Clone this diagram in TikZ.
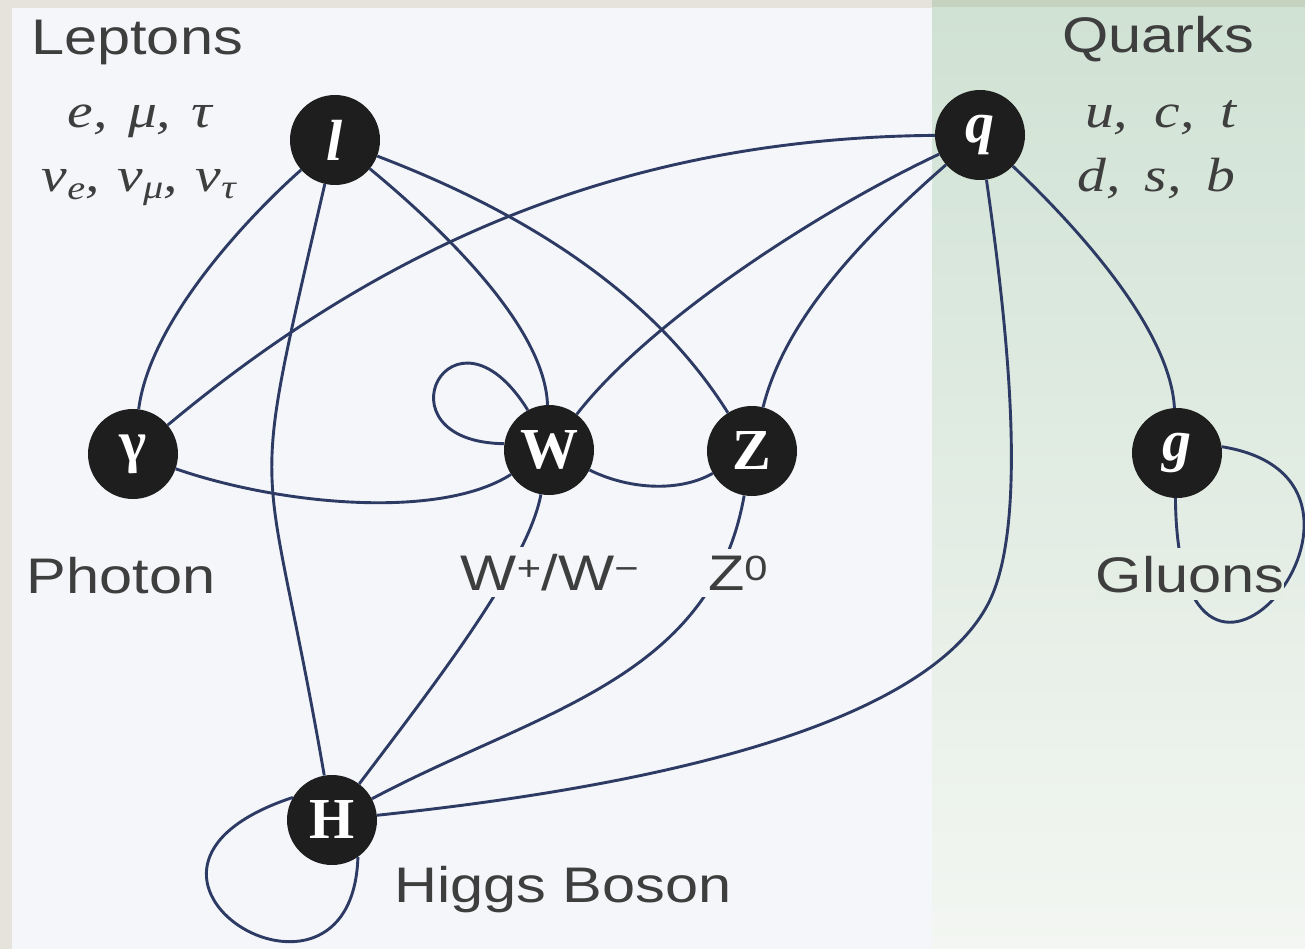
\documentclass[tikz,border=0pt]{standalone}
\usepackage{fontspec}
\setmainfont{Liberation Serif}
\newfontfamily\labelfont[FakeStretch=1.19]{Liberation Sans}
\newfontfamily\mathserif[FakeStretch=1.2]{Liberation Serif}
\definecolor{bgbeige}{RGB}{229,227,219}
\definecolor{panel}{RGB}{244,246,249}
\definecolor{stripgreen}{RGB}{198,210,192}
\definecolor{greentop}{RGB}{208,226,212}
\definecolor{greenbot}{RGB}{243,246,242}
\definecolor{greenmid}{RGB}{229,238,229}
\definecolor{nodefill}{RGB}{30,30,30}
\definecolor{edgeblue}{RGB}{44,58,100}
\definecolor{txtgrey}{RGB}{62,62,62}
\begin{document}
\begin{tikzpicture}[x=1pt,y=1pt,
  particle/.style={circle, fill=nodefill, minimum size=90pt, inner sep=0pt, text=white,
    font=\fontsize{58}{60}\selectfont\bfseries},
  lbl/.style={anchor=base, text=txtgrey, inner sep=0pt, font=\labelfont\fontsize{50}{56}\selectfont},
  mlbl/.style={anchor=base, text=txtgrey, inner sep=0pt, font=\mathserif\itshape\fontsize{48}{52}\selectfont},
  link/.style={draw=edgeblue, line width=2.9pt}]
\useasboundingbox (0,0) rectangle (1305,-949);
% backgrounds
\fill[bgbeige] (0,0) rectangle (1305,-949);
\fill[panel] (12,-8) rectangle (932,-949);
\fill[stripgreen] (932,0) rectangle (1305,-8);
\shade[top color=greentop, bottom color=greenbot] (932,-8) rectangle (1305,-949);
% particles
\node[particle] (l) at (335,-140) {\itshape l};
\node[particle] (q) at (980,-135) {\itshape q};
\node[particle] (gam) at (133,-454) {γ};
\node[particle] (W) at (549,-450) {W};
\node[particle] (Z) at (752,-451) {Z};
\node[particle] (g) at (1177,-453) {\itshape g};
\node[particle] (H) at (332,-820) {H};
% connectors
\draw[link] (l) .. controls (250,-215) and (150,-320) .. (gam);
\draw[link] (l) .. controls (245,-529) and (264,-428) .. (H);
\draw[link] (l) .. controls (450,-235) and (545,-330) .. (W);
\draw[link] (l) .. controls (545,-220) and (660,-305) .. (Z);
\draw[link] (q) .. controls (620,-138) and (380,-248) .. (gam);
\draw[link] (q) .. controls (820,-210) and (650,-320) .. (W);
\draw[link] (q) .. controls (860,-240) and (785,-320) .. (Z);
\draw[link] (q) .. controls (1080,-230) and (1170,-330) .. (g);
\draw[link] (q) .. controls (1008,-330) and (1028,-520) .. (990,-600) .. controls (944,-696) and (760,-775) .. (H);
\draw[link] (gam) .. controls (280,-505) and (440,-520) .. (W);
\draw[link] (W) .. controls (630,-490) and (680,-492) .. (Z);
\draw[link] (W.172) .. controls (372,-442) and (452,-288) .. (W.118);
\draw[link] (W) .. controls (528,-565) and (430,-690) .. (H);
\draw[link] (Z) to[out=-100,in=28] (H);
\draw[link] (g.-92) .. controls (1178,-790) and (1430,-480) .. (g.8);
\draw[link] (H.150) .. controls (68,-872) and (352,-1045) .. (H.-55);
% labels
\node[lbl] (lep) at (137,-55) {Leptons};
\node[mlbl] (lep1) at (140,-128) {e,\hspace{6pt} μ,\hspace{6pt} τ};
\node[mlbl] (lep2) at (139,-192) {ν\textsubscript{e},\hspace{3pt} ν\textsubscript{μ},\hspace{3pt} ν\textsubscript{τ}};
\node[lbl] (qua) at (1158,-53) {Quarks};
\node[mlbl] (qua1) at (1161,-128) {u,\hspace{12pt} c,\hspace{12pt} t};
\node[mlbl] (qua2) at (1156,-192) {d,\hspace{10pt} s,\hspace{10pt} b};
\node[lbl] (pho) at (121,-593) {Photon};
\node[lbl, fill=panel, inner xsep=6pt, inner ysep=7pt] (wlab) at (550,-590) {W\textsuperscript{+}/W\textsuperscript{−}};
\node[lbl, fill=panel, inner xsep=6pt, inner ysep=7pt] (zlab) at (738,-590) {Z\textsuperscript{0}};
\node[lbl, fill=greenmid, inner xsep=0pt, inner ysep=8pt] (glu) at (1190,-592) {Gluons};
\node[lbl] (hig) at (563,-902) {Higgs Boson};
\end{tikzpicture}
\end{document}
